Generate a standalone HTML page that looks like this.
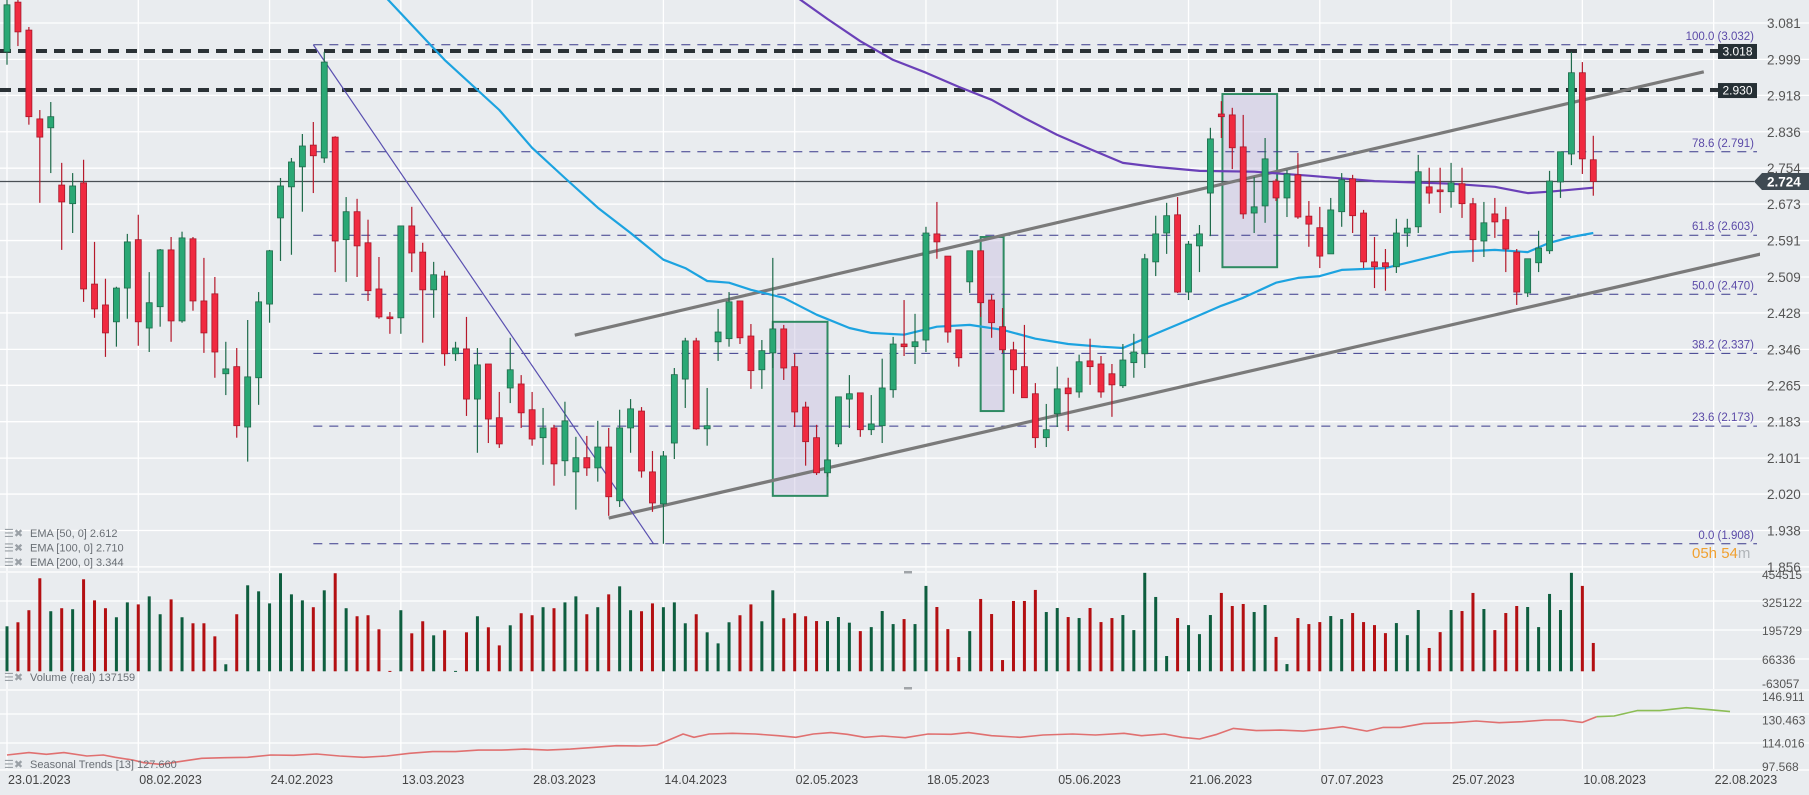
<!DOCTYPE html>
<html><head><meta charset="utf-8"><title>Chart</title>
<style>
html,body{margin:0;padding:0;background:#e9ecef;}
#wrap{position:relative;width:1809px;height:795px;overflow:hidden;background:#e9ecef;font-family:"Liberation Sans Narrow","Liberation Sans",sans-serif;}
svg{position:absolute;left:0;top:0;}
text{font-family:"Liberation Sans Narrow","Liberation Sans",sans-serif;}
</style></head>
<body>
<div id="wrap">
<svg id="chart" width="1809" height="795" viewBox="0 0 1809 795"></svg>
</div>
<script>
const dateLabels=["23.01.2023","08.02.2023","24.02.2023","13.03.2023","28.03.2023","14.04.2023","02.05.2023","18.05.2023","05.06.2023","21.06.2023","07.07.2023","25.07.2023","10.08.2023","22.08.2023"];
const priceTicks=[3.081,2.999,2.918,2.836,2.754,2.673,2.591,2.509,2.428,2.346,2.265,2.183,2.101,2.020,1.938,1.856];
const volTicks=[454515,325122,195729,66336,-63057];
const seasTicks=[146.911,130.463,114.016,97.568];
const opens=[3.016,3.128,3.065,2.865,2.845,2.716,2.674,2.721,2.493,2.446,2.408,2.484,2.593,2.394,2.442,2.570,2.410,2.595,2.455,2.471,2.291,2.307,2.171,2.282,2.448,2.642,2.712,2.757,2.806,2.777,2.824,2.593,2.656,2.586,2.482,2.419,2.417,2.624,2.565,2.480,2.511,2.336,2.347,2.234,2.313,2.192,2.259,2.268,2.210,2.147,2.169,2.095,2.070,2.102,2.079,2.126,2.005,2.169,2.207,2.070,1.998,2.135,2.279,2.365,2.167,2.363,2.370,2.455,2.376,2.300,2.338,2.392,2.307,2.216,2.147,2.068,2.133,2.234,2.248,2.165,2.174,2.255,2.358,2.352,2.367,2.606,2.556,2.390,2.498,2.568,2.457,2.397,2.345,2.307,2.246,2.147,2.201,2.259,2.250,2.320,2.313,2.291,2.264,2.316,2.336,2.543,2.608,2.649,2.475,2.579,2.698,2.876,2.874,2.802,2.653,2.669,2.725,2.687,2.739,2.646,2.620,2.561,2.656,2.730,2.653,2.543,2.541,2.532,2.608,2.622,2.712,2.705,2.701,2.719,2.674,2.590,2.651,2.638,2.565,2.473,2.541,2.568,2.723,2.786,2.969,2.773];
const highs=[3.133,3.133,3.072,2.885,2.903,2.766,2.743,2.773,2.588,2.505,2.487,2.606,2.649,2.520,2.572,2.599,2.611,2.599,2.552,2.509,2.363,2.349,2.412,2.475,2.570,2.732,2.777,2.831,2.858,3.016,2.826,2.689,2.685,2.638,2.554,2.430,2.624,2.667,2.586,2.543,2.523,2.363,2.419,2.349,2.313,2.250,2.372,2.288,2.250,2.214,2.176,2.228,2.149,2.151,2.185,2.169,2.210,2.234,2.216,2.117,2.117,2.304,2.372,2.372,2.259,2.437,2.475,2.455,2.403,2.367,2.552,2.401,2.336,2.228,2.176,2.097,2.239,2.288,2.248,2.243,2.325,2.374,2.457,2.426,2.622,2.678,2.556,2.390,2.568,2.568,2.469,2.439,2.363,2.401,2.270,2.223,2.307,2.282,2.334,2.370,2.331,2.313,2.358,2.381,2.561,2.647,2.676,2.689,2.590,2.626,2.845,2.905,2.890,2.874,2.734,2.822,2.730,2.750,2.788,2.680,2.667,2.687,2.743,2.739,2.660,2.599,2.572,2.640,2.640,2.784,2.755,2.755,2.766,2.755,2.687,2.678,2.687,2.667,2.572,2.550,2.613,2.748,2.791,3.016,2.993,2.827];
const lows=[2.987,3.029,2.852,2.676,2.743,2.570,2.608,2.453,2.417,2.329,2.352,2.415,2.354,2.340,2.397,2.363,2.406,2.433,2.338,2.282,2.243,2.147,2.093,2.221,2.406,2.545,2.559,2.656,2.698,2.766,2.520,2.498,2.509,2.455,2.415,2.381,2.381,2.520,2.361,2.417,2.309,2.320,2.196,2.113,2.135,2.124,2.225,2.169,2.129,2.086,2.039,2.061,1.985,2.061,2.048,1.971,1.991,2.113,2.057,1.980,1.908,2.099,2.214,2.165,2.129,2.320,2.352,2.358,2.257,2.257,2.304,2.277,2.171,2.084,2.063,2.059,2.126,2.169,2.149,2.153,2.135,2.237,2.331,2.313,2.340,2.550,2.361,2.307,2.473,2.419,2.372,2.338,2.246,2.237,2.124,2.126,2.171,2.162,2.237,2.266,2.237,2.194,2.259,2.282,2.304,2.511,2.561,2.473,2.457,2.520,2.601,2.822,2.752,2.640,2.608,2.631,2.680,2.644,2.640,2.577,2.529,2.561,2.622,2.608,2.529,2.484,2.478,2.518,2.577,2.608,2.674,2.653,2.665,2.642,2.543,2.554,2.597,2.520,2.446,2.464,2.520,2.561,2.687,2.761,2.741,2.692];
const closes=[3.122,3.061,2.870,2.824,2.870,2.678,2.714,2.482,2.437,2.383,2.484,2.588,2.408,2.451,2.570,2.410,2.597,2.455,2.383,2.340,2.302,2.174,2.284,2.453,2.568,2.714,2.768,2.804,2.782,2.993,2.590,2.656,2.579,2.478,2.419,2.415,2.624,2.563,2.480,2.514,2.336,2.349,2.234,2.311,2.189,2.133,2.300,2.203,2.144,2.169,2.088,2.185,2.102,2.079,2.126,2.014,2.169,2.212,2.072,2.000,2.106,2.289,2.365,2.167,2.174,2.385,2.453,2.372,2.298,2.343,2.392,2.304,2.205,2.138,2.068,2.097,2.239,2.246,2.165,2.178,2.259,2.358,2.352,2.363,2.608,2.588,2.385,2.327,2.568,2.451,2.406,2.345,2.300,2.237,2.147,2.165,2.257,2.246,2.318,2.307,2.250,2.266,2.322,2.340,2.550,2.606,2.647,2.475,2.583,2.606,2.820,2.870,2.800,2.651,2.667,2.775,2.687,2.741,2.644,2.628,2.556,2.660,2.728,2.647,2.543,2.532,2.532,2.608,2.619,2.746,2.698,2.701,2.721,2.674,2.593,2.631,2.633,2.572,2.475,2.550,2.574,2.725,2.791,2.969,2.775,2.724];
const volumes=[224,244,304,463,299,314,309,458,353,314,269,343,333,373,284,358,269,239,239,174,35,284,428,398,338,488,383,353,319,403,488,314,274,279,209,2,304,189,249,179,204,2,194,274,219,129,229,289,279,319,314,343,373,284,319,383,423,304,299,338,319,343,239,284,194,139,244,279,333,249,403,264,289,274,250,250,270,242,200,220,300,235,260,235,425,320,210,71,200,360,285,56,350,350,405,295,315,270,265,315,245,265,280,205,490,370,76,265,230,185,280,390,325,335,295,330,171,36,265,235,245,275,260,290,245,230,190,240,180,305,116,195,305,300,390,310,205,290,325,320,220,385,305,490,425,141];
const ema50Idx=[34,40,45,48,51,54,57,60,62,64,66,68,71,74,77,79,82,85,88,91,94,97,100,102,105,108,111,113,116,118,120,122,126,129,132,136,139,141,143,145];
const ema50Val=[3.155,2.998,2.885,2.800,2.732,2.665,2.608,2.548,2.529,2.500,2.496,2.480,2.462,2.424,2.394,2.383,2.379,2.397,2.401,2.390,2.370,2.358,2.352,2.349,2.381,2.412,2.444,2.462,2.496,2.507,2.511,2.525,2.529,2.547,2.565,2.570,2.565,2.586,2.599,2.608];
const ema100Idx=[71,75,78,81,84,87,90,93,96,99,102,105,109,114,119,125,132,136,139,141,145];
const ema100Val=[3.160,3.090,3.040,2.998,2.969,2.937,2.908,2.867,2.829,2.797,2.766,2.757,2.748,2.746,2.737,2.725,2.719,2.712,2.698,2.701,2.710];
const seasIdx=[0,2,3.6,5.2,7.3,8.8,9.9,11.5,12.5,14.1,15.7,17.8,19.9,22,24.1,26.2,28.3,30.4,32.6,34.7,36.8,38.9,41,43.1,45.2,47.3,49.4,51.5,53.6,55.7,57.9,59.4,60.5,61.8,62.8,64.2,66.3,68.4,70.5,72.1,73.7,75.3,76.8,78.4,80,82.1,84.2,86.3,87.9,90,92.6,94.7,97.4,99.5,102.1,103.7,105.8,107.4,109,110.6,112.1,114.2,116.4,118.5,120.6,122.1,124.3,125.8,127.4,129.5,132.2,134.3,136.4,138.5,140.6,142.2,144,145.3];
const seasVal=[106.0,107.7,106.5,107.7,105.3,106.0,104.4,102.5,100.6,99.4,101.3,103.7,104.1,104.4,106.0,105.8,106.7,105.3,104.4,105.3,107.2,108.4,108.4,109.5,109.5,110.2,109.5,110.2,111.4,112.6,112.4,113.1,116.6,120.8,118.5,120.8,121.3,120.8,119.6,118.5,120.8,121.8,120.6,118.5,119.4,118.2,120.8,120.6,121.8,119.6,118.5,120.1,120.8,120.1,121.3,119.6,120.8,118.5,117.3,120.6,124.8,123.2,123.6,122.9,124.6,126.0,122.9,125.5,125.5,128.3,128.8,130.0,128.8,129.5,130.7,130.7,129.0,133.0];
const seasFutIdx=[145.3,146.9,149,151.1,153.5,155.4,157.5];
const seasFutVal=[133.0,133.5,137.3,137.3,139.4,138.2,136.6];
const fibLabels=["100.0 (3.032)","78.6 (2.791)","61.8 (2.603)","50.0 (2.470)","38.2 (2.337)","23.6 (2.173)","0.0 (1.908)"];
const fibLevels=[3.032,2.791,2.603,2.470,2.337,2.173,1.908];
const keyLevels=[3.018,2.930];
const lastPrice=2.724;

const NS="http://www.w3.org/2000/svg";
const svg=document.getElementById('chart');
const X0=7, DX=10.94;
function xOf(i){return X0+i*DX;}
function yOf(p){return 23+(3.081-p)*444;}
function yV(v){return 671.3-v*1000/4977;}
function yS(v){return 697+(146.911-v)/0.7049;}
function mk(tag,attrs,parent){const e=document.createElementNS(NS,tag);for(const k in attrs)e.setAttribute(k,attrs[k]);(parent||svg).appendChild(e);return e;}

// defs clip
const defs=mk('defs',{});
const cp=mk('clipPath',{id:'mainclip'},defs);
mk('rect',{x:0,y:0,width:1760,height:570},cp);

// grid groups
const grid=mk('g',{});


for(let k=0;k<14;k++){
  const gx=xOf(12*k);
  const l=mk('line',{x1:gx,y1:0,x2:gx,y2:770,stroke:'#ffffff','stroke-width':1.3},grid);
  
  
}
priceTicks.forEach(p=>{
  const l=mk('line',{x1:0,y1:yOf(p),x2:1809,y2:yOf(p),stroke:'#ffffff','stroke-width':1.3},grid);
  
  
});
[601,630,659].forEach(y=>{mk('line',{x1:0,y1:y,x2:1809,y2:y,stroke:'#ffffff','stroke-width':1.3},grid);});
[714,743].forEach(y=>{mk('line',{x1:0,y1:y,x2:1809,y2:y,stroke:'#ffffff','stroke-width':1.3},grid);});
[572,690,770].forEach(y=>{
  const l=mk('line',{x1:0,y1:y,x2:1809,y2:y,stroke:'#f7f8f9','stroke-width':2},grid);
  
  
});

const main=mk('g',{'clip-path':'url(#mainclip)'});



// rectangles
const rects=[[70.0,75.0,2.408,2.016],[89.0,91.1,2.599,2.207],[111.1,116.1,2.921,2.531]];
rects.forEach(r=>{
  const e=mk('rect',{x:xOf(r[0]),y:yOf(r[2]),width:xOf(r[1])-xOf(r[0]),height:yOf(r[3])-yOf(r[2]),fill:'rgba(200,190,225,0.45)',stroke:'#2e8a62','stroke-width':2},main);
  
  
});

// fib lines
fibLevels.forEach((p,k)=>{
  const l=mk('line',{x1:xOf(28),y1:yOf(p),x2:1757,y2:yOf(p),stroke:'#3a3a8c','stroke-width':1,'stroke-dasharray':'9,7'},main);
  
  
  const t=mk('text',{x:1754,y:yOf(p)-5,'text-anchor':'end','font-size':11.5,fill:'#5b4aa8'},main);
  t.textContent=fibLabels[k];
  
  
});

// key levels (thick dashed)
keyLevels.forEach(p=>{
  const l=mk('line',{x1:0,y1:yOf(p),x2:1718,y2:yOf(p),stroke:'#2b3236','stroke-width':4,'stroke-dasharray':'11,7'},main);
  
  
});
// last price line
{const l=mk('line',{x1:0,y1:yOf(lastPrice),x2:1754,y2:yOf(lastPrice),stroke:'#4a5055','stroke-width':1.2},main);

}

// trend lines
const tl=[[51.9,2.378,155.1,2.971],[55.0,1.966,163.9,2.581]];
tl.forEach(t=>{
  const l=mk('line',{x1:xOf(t[0]),y1:yOf(t[1]),x2:xOf(t[2]),y2:yOf(t[3]),stroke:'#7a7a7a','stroke-width':3.2},main);
  
  
});
{const l=mk('line',{x1:xOf(28),y1:yOf(3.032),x2:xOf(59.1),y2:yOf(1.908),stroke:'#5a50b0','stroke-width':1.2},main);

}

// EMAs
function poly(idx,val,color,w,name,yf,parent){
  let d='';for(let k=0;k<idx.length;k++){d+=(k?'L':'M')+xOf(idx[k]).toFixed(1)+','+yf(val[k]).toFixed(1);}
  const p=mk('path',{d:d,fill:'none',stroke:color,'stroke-width':w,'stroke-linejoin':'round'},parent);
  
  
  return p;
}
poly(ema50Idx,ema50Val,'#1ca3e0',2.2,'ema-50-line',yOf,main);
poly(ema100Idx,ema100Val,'#6a40b8',2.2,'ema-100-line',yOf,main);

// candles
const cg=mk('g',{},main);


for(let i=0;i<opens.length;i++){
  const up=closes[i]>=opens[i];
  const x=xOf(i);
  const w=mk('line',{x1:x,y1:yOf(highs[i]),x2:x,y2:yOf(lows[i]),stroke:up?'#1f6b4b':'#b5192b','stroke-width':1.2},cg);
  
  
  const top=yOf(Math.max(opens[i],closes[i])), bot=yOf(Math.min(opens[i],closes[i]));
  const b=mk('rect',{x:x-3,y:top,width:6,height:Math.max(1.5,bot-top),fill:up?'#2aa875':'#f02a40',stroke:up?'#1f6b4b':'#a8172a','stroke-width':0.8},cg);
  
  
}

// price axis labels
priceTicks.forEach(p=>{
  const t=mk('text',{x:1767,y:yOf(p)+5,'font-size':13.5,fill:'#555'});
  t.textContent=p.toFixed(3);
  
  
});
// key level boxes
keyLevels.forEach(p=>{
  const r=mk('rect',{x:1718,y:yOf(p)-7,width:39,height:15,fill:'#263035'});
  
  
  const t=mk('text',{x:1737.5,y:yOf(p)+4.5,'text-anchor':'middle','font-size':12,fill:'#ffffff'});
  t.textContent=p.toFixed(3);
  
  
});
// last price tag
{const yl=yOf(lastPrice);
const pth=mk('path',{d:`M1754,${yl} L1762,${yl-8.5} L1809,${yl-8.5} L1809,${yl+8.5} L1762,${yl+8.5} Z`,fill:'#3f4a52'});


const t=mk('text',{x:1767,y:yl+5,'font-size':13.5,'font-weight':'bold',fill:'#ffffff'});
t.textContent=lastPrice.toFixed(3);

}
// countdown
{const t=mk('text',{x:1692,y:558,'font-size':15,fill:'#f0a030'});
t.innerHTML='05h 54<tspan fill="#b0b4b8">m</tspan>';

}

// legend
const legTexts=["EMA [50, 0] 2.612","EMA [100, 0] 2.710","EMA [200, 0] 3.344"];
legTexts.forEach((s,k)=>{
  const y=537+k*14.5;
  const ic=mk('text',{x:4,y:y,'font-size':11,fill:'#9aa0a6'});
  ic.textContent='☰✖';
  
  
  const t=mk('text',{x:30,y:y,'font-size':11,fill:'#6a6f75'});
  t.textContent=s;
  
  
});

// volume
const vg=mk('g',{});


for(let i=0;i<volumes.length;i++){
  const up=closes[i]>=opens[i];
  const y=yV(volumes[i]);
  const r=mk('rect',{x:xOf(i)-1.5,y:y,width:3,height:Math.max(1,671.3-y),fill:up?'#0e5e3f':'#b30f12'},vg);
  
  
}
[575,603,631,660,684].forEach((y,k)=>{
  const t=mk('text',{x:1762,y:y+4,'font-size':12,fill:'#555'});
  t.textContent=String(volTicks[k]);
  
  
});
{const ic=mk('text',{x:4,y:681,'font-size':11,fill:'#9aa0a6'});ic.textContent='☰✖';


const t=mk('text',{x:30,y:681,'font-size':11,fill:'#6a6f75'});t.textContent='Volume  (real)  137159';

}

// seasonal
poly(seasIdx,seasVal,'#e07070',1.6,'seasonal-trend-line',yS,svg);
poly(seasFutIdx,seasFutVal,'#8cbd55',1.6,'seasonal-forecast-line',yS,svg);
seasTicks.forEach(v=>{
  const t=mk('text',{x:1762,y:yS(v)+4,'font-size':12,fill:'#555'});
  t.textContent=v.toFixed(3);
  
  
});
{const ic=mk('text',{x:4,y:768,'font-size':11,fill:'#9aa0a6'});ic.textContent='☰✖';


const t=mk('text',{x:30,y:768,'font-size':11,fill:'#6a6f75'});t.textContent='Seasonal  Trends  [13]  127.660';

}
[[908,572],[908,688]].forEach(p=>{const r=mk('rect',{x:p[0]-4,y:p[1]-1,width:8,height:2.5,fill:'#a0a4a8'});

});

// date labels
dateLabels.forEach((s,k)=>{
  const t=mk('text',{x:xOf(12*k)+1,y:784,'font-size':12.5,fill:'#444'});
  t.textContent=s;
  
  
});
</script>
</body></html>
